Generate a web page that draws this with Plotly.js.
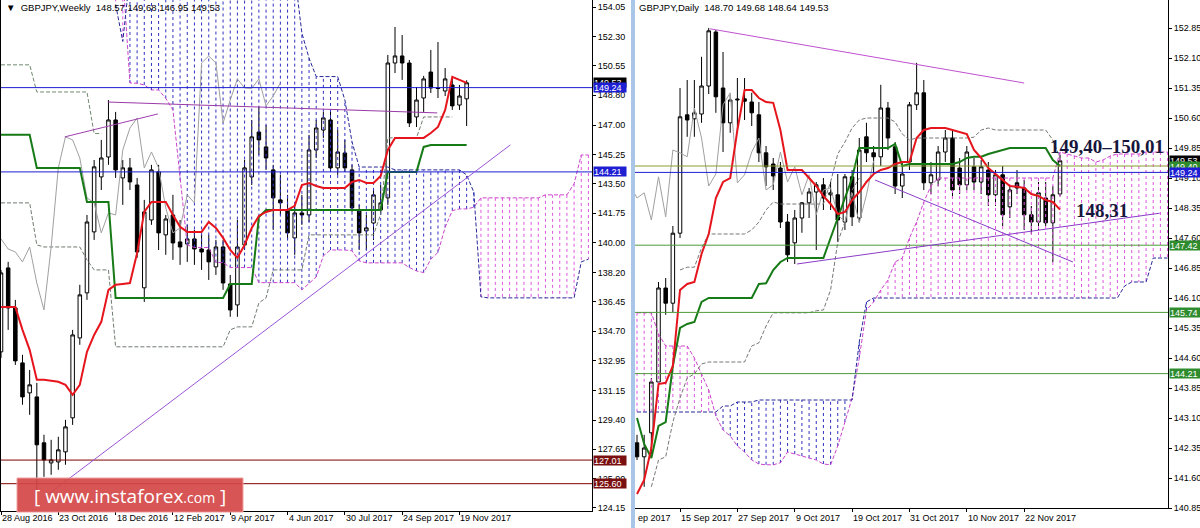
<!DOCTYPE html>
<html><head><meta charset="utf-8">
<script src="https://cdn.plot.ly/plotly-3.0.1.min.js"></script>
<style>html,body{margin:0;padding:0;background:#fff;overflow:hidden}#chart{width:1200px;height:528px}</style>
</head><body><div id="chart"></div>
<script>
// ---------------- WEEKLY (left panel) ----------------
const wkTickIdx  = [0, 8, 16, 24, 32, 40, 48, 56, 64];
const wkTickText = ['28 Aug 2016','23 Oct 2016','18 Dec 2016','12 Feb 2017','9 Apr 2017','4 Jun 2017','30 Jul 2017','24 Sep 2017','19 Nov 2017'];
const wkYTicks = [154.05,152.30,150.55,148.80,147.00,145.25,143.50,141.75,140.00,138.20,136.45,134.70,132.95,131.15,129.40,127.65,125.90,124.15];

const wkOpen = [133.47,138.48,136.09,132.81,131.02,130.78,128.04,126.84,126.90,127.50,
 129.53,134.30,136.99,140.63,143.91,145.10,147.31,143.85,144.45,143.43,
 137.29,141.34,144.21,140.45,141.64,140.03,139.91,140.21,139.61,139.55,
 138.54,139.73,137.52,136.27,139.85,143.91,146.59,145.70,144.33,142.54,
 141.94,140.27,141.76,141.64,145.52,146.71,147.31,144.45,145.34,144.33,
 141.94,140.69,141.16,141.94,142.66,150.71,151.13,150.71,147.49,148.62,
 150.17,149.22,149.04,149.40,148.20,148.57];
const wkHigh = [138.36,138.84,136.57,133.29,132.39,131.62,128.52,128.22,128.40,129.41,
 134.78,137.47,141.64,144.92,146.12,148.50,147.79,144.92,145.04,143.85,
 142.54,144.63,144.63,141.64,142.84,141.34,141.05,140.75,140.45,140.45,
 140.15,140.15,138.06,141.34,144.92,147.31,148.09,147.01,144.63,144.03,
 142.84,142.24,142.84,146.42,147.31,147.79,147.79,146.71,146.12,144.63,
 142.24,141.64,143.13,143.43,151.19,152.86,152.38,150.89,149.28,149.94,
 151.49,151.96,150.41,149.82,149.40,149.68];
const wkLow = [133.11,134.78,132.69,130.31,129.71,124.94,126.01,126.13,126.43,126.73,
 129.11,133.89,136.57,140.15,143.13,144.63,143.85,142.24,143.13,139.08,
 136.45,141.05,139.55,139.26,138.96,138.66,138.84,138.66,138.36,137.76,
 138.06,137.17,135.56,135.56,139.55,143.43,145.22,144.33,140.75,141.64,
 140.15,139.26,141.05,141.22,145.04,146.24,144.21,144.03,144.21,141.82,
 139.55,139.55,140.15,141.64,142.24,150.11,149.70,146.89,146.89,147.79,
 148.92,148.62,148.74,147.91,147.91,146.95];
const wkClose = [138.18,136.09,132.93,130.78,131.50,127.92,127.02,127.02,127.62,128.99,
 134.48,136.87,141.22,144.51,145.04,147.31,144.33,144.45,143.61,139.43,
 141.82,144.33,140.57,141.40,139.97,139.73,140.21,139.61,139.43,138.84,
 139.73,137.58,135.97,139.73,144.45,146.30,146.12,145.04,142.66,142.36,
 140.57,141.76,141.64,145.52,146.83,147.43,144.45,145.40,144.45,142.06,
 140.57,140.87,142.84,142.36,150.71,151.13,150.71,147.13,148.50,149.76,
 149.22,149.19,149.76,148.15,148.74,149.53];
const wkTenkan = [136.15,136.15,136.15,134.78,133.59,131.80,131.80,131.74,131.68,131.50,
 130.90,131.50,133.47,134.48,135.26,137.17,137.47,137.52,137.58,139.37,
 141.82,142.42,142.42,142.42,141.64,140.93,140.63,140.63,140.63,141.22,
 140.87,140.27,139.55,139.08,139.85,140.87,141.58,141.82,141.94,141.94,
 141.94,142.18,143.43,143.55,143.37,143.25,143.25,143.25,143.25,143.61,
 143.73,143.55,143.55,143.97,145.52,146.24,146.24,146.24,146.24,146.24,
 146.53,146.89,147.91,149.88,149.70,149.52];
const wkKijun = [146.42,146.42,146.42,146.42,146.42,144.45,144.45,144.45,144.45,144.45,
 144.45,144.45,142.42,142.42,142.42,142.42,136.69,136.69,136.69,136.69,
 136.69,136.69,136.69,136.69,136.69,136.69,136.69,136.69,136.69,136.69,
 136.69,136.69,137.52,137.52,137.52,137.52,141.52,141.94,141.94,141.94,
 141.94,141.94,141.94,141.94,141.94,141.94,141.94,141.94,141.94,141.94,
 141.94,141.94,141.94,141.94,144.21,144.21,144.21,144.21,144.21,145.70,
 145.82,145.82,145.82,145.82,145.82,145.82];
const wkSpanA = [null,null,null,null,null,null,null,null,null,null,null,null,null,null,null,null,
 156,156,149.52,149.5,149.4,149.1,149.1,148.6,147.9,143.7,
 139.85,139.7,139.7,139.7,138.8,138.8,138.5,138.5,138.5,138.5,
 137.6,137.6,137.6,137.6,137.6,137.6,137.17,137.58,137.94,139.2,
 139.55,139.55,139.55,139.5,138.9,138.78,138.78,138.78,138.78,138.78,
 138.78,138.5,138.3,138.2,139.0,139.4,140.9,141.9,142.0,142.0,
 142.1,142.66,142.66,142.66,142.66,142.66,142.66,142.66,142.66,142.66,
 142.84,142.84,142.84,142.84,143.5,145.22,145.22];
const wkSpanB = [null,null,null,null,null,null,null,null,null,null,null,null,null,null,null,null,
 154.2,152.0,156,156,156,156,156,156,156,156,
 156,156,156,156,156,156,156,156,156,156,
 156,156,156,156,156,156,152.5,151.0,149.9,149.9,
 149.9,149.9,148.5,146.0,144.5,144.5,144.5,144.5,144.5,144.33,
 144.33,144.33,144.33,144.33,144.33,144.33,144.33,144.33,144.33,144.03,
 143.0,136.75,136.69,136.69,136.69,136.69,136.69,136.69,136.69,136.69,
 136.69,136.69,136.69,136.69,136.69,138.84,139.0];
const wkGray1 = [150.6,150.6,150.6,150.6,150.6,148.98,148.98,148.98,148.98,148.98,148.98,148.98,148.98,146.5,146.5];
const wkGray2 = [142.36,142.36,142.36,142.36,142.36,139.85,139.73,139.73,139.73,139.73,
 139.73,139.73,138.96,138.36,138.36,138.36,133.77,133.77,133.77,133.77,
 133.77,133.77,133.77,133.77,133.77,133.77,133.77,133.77,133.77,133.77,
 133.77,133.77,134.78,134.96,134.96,134.96,136.39,136.69,138.36,138.36,
 138.36,138.36,138.36,140.45,140.45,140.45,140.45,140.45,140.45,140.45,
 140.45,140.45,140.45,141.7,146.24,146.24,146.24,146.24,146.24,147.49,
 147.49,147.49,147.49,147.49];
const wkLevels = [149.24, 144.21, 127.01, 125.60];
const wkTrendX0 = [6.15, 14.9, 8.9];
const wkTrendY0 = [124.82, 148.38, 146.3];
const wkTrendX1 = [71.1, 60.9, 21.9];
const wkTrendY1 = [145.82, 147.73, 147.67];

// ---------------- DAILY (right panel) ----------------
const dyTickIdx  = [6, 14, 22, 30, 38, 46, 54];
const dyTickText = ['15 Sep 2017','27 Sep 2017','9 Oct 2017','19 Oct 2017','31 Oct 2017','10 Nov 2017','22 Nov 2017'];
const dyYTicks = [152.85,152.10,151.35,150.60,149.85,149.10,148.35,147.60,146.85,146.10,145.35,144.60,143.85,143.10,142.35,141.60,140.85];

const dyOpen = [142.48,142.13,142.73,144.00,146.35,145.97,147.72,150.68,150.58,150.70,
 151.40,152.75,151.35,150.48,151.05,151.08,151.00,150.68,149.73,149.45,
 149.35,148.00,147.48,148.10,148.48,148.75,148.93,148.68,148.68,148.00,
 149.13,148.10,150.13,149.73,149.63,150.85,149.88,148.90,149.50,150.93,
 151.23,148.98,149.05,149.75,150.10,149.35,148.93,149.38,149.00,149.30,
 148.68,149.18,148.38,148.98,148.85,148.18,148.00,148.60,147.98,148.70];
const dyHigh = [142.68,142.68,144.10,146.50,146.60,147.90,151.35,151.55,151.55,152.13,
 152.85,152.80,152.25,151.18,151.60,151.60,151.23,151.00,149.90,149.60,
 149.50,148.20,148.30,148.50,148.85,149.00,149.10,149.00,149.20,149.20,
 149.30,150.10,150.48,149.90,151.43,151.00,150.00,149.50,151.00,151.98,
 151.55,149.50,149.90,150.30,150.30,149.60,149.90,149.60,149.55,149.50,
 149.30,149.40,148.90,149.30,149.05,148.40,149.00,149.00,148.90,149.68];
const dyLow = [142.05,141.38,142.20,143.90,145.68,145.75,147.60,150.13,150.13,150.48,
 151.20,150.73,149.75,150.23,150.25,150.55,150.40,149.50,148.90,148.80,
 147.85,147.00,146.95,147.73,148.10,147.30,148.30,148.30,147.50,147.80,
 147.90,148.00,149.50,149.20,149.40,149.80,148.70,148.60,149.30,150.80,
 148.80,148.70,148.90,149.50,148.60,148.70,148.80,148.80,148.70,148.40,
 148.40,147.90,148.10,148.70,147.80,147.70,147.80,147.90,147.00,148.64];
const dyClose = [142.13,142.35,144.00,146.35,145.97,147.72,150.63,150.55,150.73,151.40,
 152.78,151.13,150.48,151.05,151.07,151.02,150.73,149.73,149.38,149.15,
 148.00,147.18,148.10,148.48,148.75,148.93,148.60,148.73,148.05,149.13,
 148.13,149.80,149.73,149.63,150.85,150.10,148.90,149.20,150.93,151.23,
 148.98,149.18,149.75,150.10,148.80,148.93,149.75,149.00,149.38,148.68,
 149.18,148.18,148.80,148.85,148.18,148.00,148.73,147.98,148.68,149.53];
const dyTenkan = [141.2,141.55,142.35,143.95,143.98,144.4,146.3,146.45,146.5,147.2,
 147.7,148.6,149.0,149.1,150.3,151.3,151.3,151.1,151.0,150.98,
 150.3,149.3,149.3,149.3,149.1,148.9,148.65,148.45,148.2,148.25,
 148.55,148.75,149.0,149.2,149.3,149.35,149.45,149.5,149.5,150.1,
 150.3,150.35,150.35,150.35,150.3,150.25,150.2,149.8,149.6,149.35,
 149.2,149.05,148.9,148.88,148.85,148.7,148.65,148.55,148.5,148.31];
const dyKijun = [143.1,142.45,142.1,142.9,143.0,144.4,145.35,145.45,145.5,146.0,
 146.1,146.1,146.1,146.1,146.1,146.1,146.1,146.45,146.47,146.8,
 147.0,147.1,147.1,147.1,147.1,147.1,147.1,147.6,148.1,148.6,
 149.1,149.85,149.85,149.85,149.85,149.85,149.95,149.4,149.45,149.45,
 149.45,149.45,149.45,149.45,149.45,149.5,149.6,149.63,149.63,149.7,
 149.75,149.8,149.85,149.85,149.85,149.85,149.85,149.85,149.55,149.4];
const dySpanA = [145.73,145.73,145.73,145.2,144.9,144.9,144.9,144.9,144.6,144.2,
 143.8,143.15,142.8,142.65,142.4,142.25,142.05,141.95,141.93,141.93,
 141.98,142.25,142.2,142.15,142.1,142.05,141.95,141.93,142.4,143.0,
 143.6,144.6,145.8,146.0,146.3,146.55,147.0,147.1,147.6,148.0,
 148.5,148.9,149.1,149.1,149.1,149.1,149.1,149.1,149.1,149.1,
 149.1,149.1,149.1,149.1,149.1,149.1,149.1,149.1,149.1,149.75,
 149.7,149.65,149.6,149.6,149.5,149.55,149.65,149.7,149.7,149.7,
 149.7,149.75,149.75,149.75,149.75];
const dySpanB = [143.25,143.25,143.25,143.25,143.25,143.25,143.25,143.25,143.25,143.25,
 143.25,143.25,143.4,143.4,143.5,143.5,143.5,143.55,143.55,143.55,
 143.55,143.55,143.55,143.55,143.55,143.55,143.55,143.55,143.55,143.55,
 143.55,145.0,146.0,146.1,146.1,146.1,146.1,146.1,146.1,146.1,
 146.1,146.1,146.1,146.1,146.1,146.1,146.1,146.1,146.1,146.1,
 146.1,146.1,146.1,146.1,146.1,146.1,146.1,146.1,146.1,146.1,
 146.1,146.1,146.1,146.1,146.1,146.1,146.1,146.1,146.4,146.5,
 146.5,146.5,147.1,147.1,147.1];
const dyGray1 = [null,null,null,null,null,null,146.8,146.87,146.87,147.35,
 147.7,147.7,147.7,147.7,147.7,147.7,147.8,148.0,148.3,148.5,
 148.45,148.45,148.45,148.45,148.45,148.45,148.45,149.0,149.7,150.0,
 150.35,150.55,150.6,150.6,150.6,150.6,150.5,150.2,150.05,150.1,
 150.1,150.1,150.1,150.1,150.1,150.1,150.1,150.12,150.3,150.35,
 150.3,150.3,150.3,150.3,150.3,150.3,150.3,150.3,150.05,149.6];
const dyGray2 = [null,null,141.38,142.05,142.13,143.0,143.6,144.1,144.2,144.45,
 144.5,144.5,144.5,144.5,144.5,144.5,144.9,144.98,145.4,145.73,
 145.73,145.73,145.73,145.73,145.73,145.78,145.8,146.3,147.5,148.0,
 148.8,149.1];
const dyLevels = [149.40, 149.24, 147.42, 145.74, 144.21];
const dyTrendX0 = [10.2, 22.3, 33.2];
const dyTrendY0 = [152.83, 146.95, 149.05];
const dyTrendX1 = [54.0, 72.9, 60.8];
const dyTrendY1 = [151.475, 148.22, 147.0];
const zoneText = ['149,40\u2013150,01', '148,31'];

// ---------------- drawing ----------------
const W = 1200, H = 528;
const F = 'Liberation Sans, Arial, sans-serif';
const PX = v => v / W, PY = v => 1 - v / H;
const idx = a => a.map((_, i) => i);

function hatch(A, B, aAbove, xa, ya, color) {
  const x = [], y = [];
  for (let i = 0; i < A.length; i++) {
    if (A[i] == null || B[i] == null) continue;
    if ((A[i] > B[i]) === aAbove) { x.push(i, i, null); y.push(A[i], B[i], null); }
  }
  return {type:'scatter', mode:'lines', x, y, xaxis:xa, yaxis:ya, hoverinfo:'skip',
          line:{color, width:1, dash:'dot'}};
}
function line(y, xa, ya, color, width, dash, xShift) {
  return {type:'scatter', mode:'lines', x:y.map((_, i) => i + (xShift || 0)), y, xaxis:xa, yaxis:ya,
          hoverinfo:'skip', connectgaps:false, line:{color, width, dash:dash || 'solid'}};
}
function candles(o, h, l, c, xa, ya) {
  return {type:'candlestick', x:idx(o), open:o, high:h, low:l, close:c, xaxis:xa, yaxis:ya,
    hoverinfo:'skip', whiskerwidth:0,
    increasing:{line:{color:'#000', width:1}, fillcolor:'#fff'},
    decreasing:{line:{color:'#000', width:1}, fillcolor:'#000'}};
}

const PINK = '#dd55dd', BLUE = '#3030c0';
const traces = [
  hatch(wkSpanA, wkSpanB, true, 'x', 'y', PINK),
  hatch(wkSpanA, wkSpanB, false, 'x', 'y', BLUE),
  line(wkSpanA, 'x', 'y', '#cc44cc', 1, '4px,2px'),
  line(wkSpanB, 'x', 'y', '#28289a', 1, '4px,2px'),
  line(wkGray1, 'x', 'y', '#6f8a6f', 1, '4px,2px'),
  line(wkGray2, 'x', 'y', '#6f7a6f', 1, '4px,2px'),
  line(wkClose, 'x', 'y', '#a0a0a0', 1, 'solid', -26),
  candles(wkOpen, wkHigh, wkLow, wkClose, 'x', 'y'),
  line(wkKijun, 'x', 'y', '#167a16', 2),
  line(wkTenkan, 'x', 'y', '#e6141c', 2),
  hatch(dySpanA, dySpanB, true, 'x2', 'y2', PINK),
  hatch(dySpanA, dySpanB, false, 'x2', 'y2', BLUE),
  line(dySpanA, 'x2', 'y2', '#cc44cc', 1, '4px,2px'),
  line(dySpanB, 'x2', 'y2', '#28289a', 1, '4px,2px'),
  line(dyGray1, 'x2', 'y2', '#777777', 1, '4px,2px'),
  line(dyGray2, 'x2', 'y2', '#777777', 1, '4px,2px'),
  line(dyClose, 'x2', 'y2', '#a0a0a0', 1, 'solid', -26),
  candles(dyOpen, dyHigh, dyLow, dyClose, 'x2', 'y2'),
  line(dyKijun, 'x2', 'y2', '#167a16', 2),
  line(dyTenkan, 'x2', 'y2', '#e6141c', 2)
];

const tickFont = {family:F, size:9, color:'#000'};
const xCommon = {showgrid:false, zeroline:false, showline:true, linecolor:'#000', linewidth:1,
  ticks:'outside', ticklen:3, tickcolor:'#000', showticklabels:false,
  rangeslider:{visible:false}, fixedrange:true, automargin:false};
const yCommon = {showgrid:false, zeroline:false, showline:true, linecolor:'#000', linewidth:1,
  ticks:'outside', ticklen:3, tickcolor:'#000', tickfont:tickFont, side:'right', fixedrange:true, automargin:false};

const shapes = [];
const lvlColL = ['#1e1ed2', '#1e1ed2', '#800000', '#800000'];
wkLevels.forEach((v, i) => shapes.push({type:'line', xref:'x domain', yref:'y', x0:0, x1:1, y0:v, y1:v,
  line:{color:lvlColL[i], width:1}}));
const lvlColR = ['#8a9a32', '#1e1ed2', '#4f9a3a', '#4f9a3a', '#4f9a3a'];
dyLevels.forEach((v, i) => shapes.push({type:'line', xref:'x2 domain', yref:'y2', x0:0, x1:1, y0:v, y1:v,
  line:{color:lvlColR[i], width:1}}));
const trColL = ['#9a55d8', '#9a3aa8', '#a040b0'];
wkTrendX0.forEach((_, i) => shapes.push({type:'line', xref:'x', yref:'y', x0:wkTrendX0[i], y0:wkTrendY0[i],
  x1:wkTrendX1[i], y1:wkTrendY1[i], line:{color:trColL[i], width:1}}));
const trColR = ['#c050d0', '#8a3cc8', '#8a3cc8'];
dyTrendX0.forEach((_, i) => shapes.push({type:'line', xref:'x2', yref:'y2', x0:dyTrendX0[i], y0:dyTrendY0[i],
  x1:dyTrendX1[i], y1:dyTrendY1[i], line:{color:trColR[i], width:1}}));
shapes.push({type:'rect', xref:'paper', yref:'paper', x0:PX(631), x1:PX(635), y0:0, y1:1, fillcolor:'#a9c6e8', line:{width:0}});
shapes.push({type:'line', xref:'paper', yref:'paper', x0:PX(0.5), x1:PX(0.5), y0:PY(511), y1:1, line:{color:'#000', width:1}});
shapes.push({type:'rect', xref:'paper', yref:'paper', x0:PX(17), x1:PX(243), y0:PY(512), y1:PY(478),
  fillcolor:'rgba(212,70,70,0.92)', line:{color:'#f0a0a0', width:1}});

function axLabel(xpx, yref, v, bg, fg) {
  return {xref:'paper', x:PX(xpx), xanchor:'left', yref, y:v, yanchor:'middle', text:v.toFixed(2),
    showarrow:false, bgcolor:bg, borderpad:0, width:32, height:9, align:'left',
    font:{family:F, size:9, color:fg}};
}
function xLabel(xref, v, t) {
  return {xref, x:v, xanchor:'left', xshift:-1, yref:'paper', y:PY(518), yanchor:'middle', text:t,
    showarrow:false, font:tickFont};
}
const last = wkClose.length - 1, dl = dyClose.length - 1;
const ann = [
  {xref:'paper', yref:'paper', x:PX(4), y:PY(8), xanchor:'left', yanchor:'middle', showarrow:false,
   text:'\u25BC\u00a0\u00a0GBPJPY,Weekly\u00a0\u00a0' + [wkOpen[last], wkHigh[last], wkLow[last], wkClose[last]].map(v => v.toFixed(2)).join(' '),
   font:{family:F, size:9.5, color:'#000'}},
  {xref:'paper', yref:'paper', x:PX(637), y:PY(8), xanchor:'left', yanchor:'middle', showarrow:false,
   text:'GBPJPY,Daily\u00a0\u00a0' + [dyOpen[dl], dyHigh[dl], dyLow[dl], dyClose[dl]].map(v => v.toFixed(2)).join(' '),
   font:{family:F, size:9.5, color:'#000'}},
  {xref:'paper', yref:'paper', x:PX(636), y:PY(518), xanchor:'left', yanchor:'middle', showarrow:false,
   text:'ep 2017', font:tickFont}
];
wkTickIdx.forEach((v, i) => ann.push(xLabel('x', v, wkTickText[i])));
dyTickIdx.forEach((v, i) => ann.push(xLabel('x2', v, dyTickText[i])));
ann.push(
  axLabel(593, 'y', wkClose[last], '#000000', '#ffffff'),
  axLabel(593, 'y', wkLevels[0], '#1e1ed2', '#ffffff'),
  axLabel(593, 'y', wkLevels[1], '#1e1ed2', '#ffffff'),
  axLabel(593, 'y', wkLevels[2], '#7a0f0f', '#ffffff'),
  axLabel(593, 'y', wkLevels[3], '#7a0f0f', '#ffffff'),
  axLabel(1169, 'y2', dyClose[dl], '#000000', '#ffffff'),
  axLabel(1169, 'y2', dyLevels[0], '#2e8b2e', '#ffffff'),
  axLabel(1169, 'y2', dyLevels[1], '#1e1ed2', '#ffffff'),
  axLabel(1169, 'y2', dyLevels[2], '#2e8b2e', '#ffffff'),
  axLabel(1169, 'y2', dyLevels[3], '#2e8b2e', '#ffffff'),
  axLabel(1169, 'y2', dyLevels[4], '#2e8b2e', '#ffffff'),
  {xref:'paper', yref:'paper', x:PX(1107), y:PY(147), xanchor:'center', yanchor:'middle', showarrow:false,
   text:'<b>' + zoneText[0] + '</b>', font:{family:'Liberation Serif, serif', size:19, color:'#16163c'}},
  {xref:'paper', yref:'paper', x:PX(1102), y:PY(210), xanchor:'center', yanchor:'middle', showarrow:false,
   text:'<b>' + zoneText[1] + '</b>', font:{family:'Liberation Serif, serif', size:19, color:'#16163c'}},
  {xref:'paper', yref:'paper', x:PX(130), y:PY(496), xanchor:'center', yanchor:'middle', showarrow:false,
   text:'[ www.instaforex<span style="font-size:14px">.com</span> ]',
   font:{family:'Open Sans, sans-serif', size:19, color:'#ffffff'}}
);

const layout = {
  width:W, height:H, margin:{l:0, r:0, t:0, b:0}, paper_bgcolor:'#ffffff', plot_bgcolor:'#ffffff',
  showlegend:false, dragmode:false, hovermode:false,
  xaxis:Object.assign({}, xCommon, {domain:[0, 592 / W], range:[-0.14, 82.5], anchor:'y', tickvals:wkTickIdx}),
  yaxis:Object.assign({}, yCommon, {domain:[1 - 511 / H, 1], range:[123.97, 154.47], anchor:'x',
    tickvals:wkYTicks, ticktext:wkYTicks.map(v => v.toFixed(2))}),
  xaxis2:Object.assign({}, xCommon, {domain:[635 / W, 1168 / W], range:[-0.28, 74.06], anchor:'y2', mirror:true,
    tickvals:dyTickIdx}),
  yaxis2:Object.assign({}, yCommon, {domain:[1 - 508 / H, 1], range:[140.85, 153.55], anchor:'x2',
    tickvals:dyYTicks, ticktext:dyYTicks.map(v => v.toFixed(2))}),
  shapes, annotations:ann
};
Plotly.newPlot('chart', traces, layout, {staticPlot:true, displayModeBar:false});
</script></body></html>
